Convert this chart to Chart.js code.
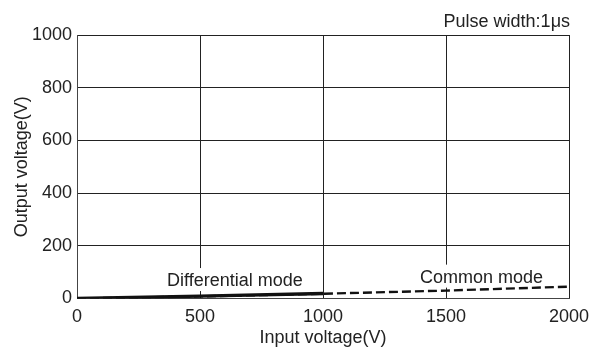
<!DOCTYPE html>
<html>
<head>
<meta charset="utf-8">
<script src="https://cdn.jsdelivr.net/npm/chart.js@4"></script>
<style>
  html, body { margin: 0; padding: 0; background: #fff; }
  #wrap { width: 600px; height: 356px; }
</style>
</head>
<body>
<div id="wrap"><canvas id="myChart"></canvas></div>
<script>
const xTicks = [0, 500, 1000, 1500, 2000]
const yTicks = [0, 200, 400, 600, 800, 1000]

// input voltage (V) -> output voltage (V)
const diffX = [0, 500, 1000]
const diffY = [0, 9, 19]
const commonX = [0, 500, 1000, 1500, 2000]
const commonY = [0, 8, 18, 30, 45]

// curve labels, placed in data units
const curveLabels = [
    { text: 'Differential mode', x: 642, y: 70 },
    { text: 'Common mode', x: 1644, y: 83 }
]
const noteText = 'Pulse width:1\u03bcs'

const FONT = 'Liberation Sans, Arial, Helvetica, sans-serif'
const SIZE = 18

const toPoints = (xs, ys) => xs.map((x, i) => ({ x: x, y: ys[i] }))

const labelPlugin = {
    id: 'curveLabels',
    beforeDatasetsDraw(chart) {
        const ctx = chart.ctx
        const xs = chart.scales.x, ys = chart.scales.y
        ctx.save()
        ctx.font = SIZE + 'px ' + FONT
        ctx.textAlign = 'center'
        ctx.textBaseline = 'middle'
        curveLabels.forEach(l => {
            const px = xs.getPixelForValue(l.x)
            const py = ys.getPixelForValue(l.y)
            const w = ctx.measureText(l.text).width
            ctx.fillStyle = '#fff'
            ctx.fillRect(px - w / 2 - 3, py - 12, w + 6, 23)
            ctx.fillStyle = '#222'
            ctx.fillText(l.text, px, py + 1)
        })
        ctx.restore()
    },
    afterDraw(chart) {
        const ctx = chart.ctx
        ctx.save()
        ctx.font = SIZE + 'px ' + FONT
        ctx.fillStyle = '#222'
        ctx.textAlign = 'right'
        ctx.textBaseline = 'alphabetic'
        ctx.fillText(noteText, chart.chartArea.right + 1, 27)
        ctx.restore()
    }
}

const ctx = document.getElementById('myChart').getContext('2d')
const myChart = new Chart(ctx, {
    type: 'scatter',
    data: {
        datasets: [{
            label: 'Differential mode',
            data: toPoints(diffX, diffY),
            showLine: true,
            borderColor: '#111',
            borderWidth: 3.4,
            pointRadius: 0
        }, {
            label: 'Common mode',
            data: toPoints(commonX, commonY),
            showLine: true,
            borderColor: '#111',
            borderWidth: 2.4,
            borderDash: [9, 4],
            pointRadius: 0
        }]
    },
    options: {
        responsive: true,
        maintainAspectRatio: false,
        animation: false,
        layout: { padding: { top: 35, right: 31, left: 0, bottom: 0 } },
        plugins: {
            legend: { display: false },
            tooltip: { enabled: false }
        },
        scales: {
            x: {
                type: 'linear',
                min: 0,
                max: 2000,
                afterBuildTicks: axis => { axis.ticks = xTicks.map(v => ({ value: v })) },
                afterFit: axis => { axis.height = 57.5 },
                grid: { color: '#222', lineWidth: 1, drawTicks: false },
                border: { color: '#444', width: 1 },
                ticks: {
                    color: '#222',
                    font: { family: FONT, size: SIZE },
                    padding: 8,
                    maxRotation: 0,
                    callback: v => String(v)
                },
                title: {
                    display: true,
                    text: 'Input voltage(V)',
                    color: '#222',
                    font: { family: FONT, size: SIZE },
                    padding: { top: 0, bottom: 7 }
                }
            },
            y: {
                type: 'linear',
                min: 0,
                max: 1000,
                afterBuildTicks: axis => { axis.ticks = yTicks.map(v => ({ value: v })) },
                afterFit: axis => { axis.width = 77 },
                grid: { color: '#222', lineWidth: 1, drawTicks: false },
                border: { color: '#444', width: 1 },
                ticks: {
                    color: '#222',
                    font: { family: FONT, size: SIZE },
                    padding: 5,
                    callback: v => String(v)
                },
                title: {
                    display: true,
                    text: 'Output voltage(V)',
                    color: '#222',
                    font: { family: FONT, size: SIZE },
                    padding: { top: 11, bottom: 0 }
                }
            }
        }
    },
    plugins: [labelPlugin]
})
</script>
</body>
</html>
